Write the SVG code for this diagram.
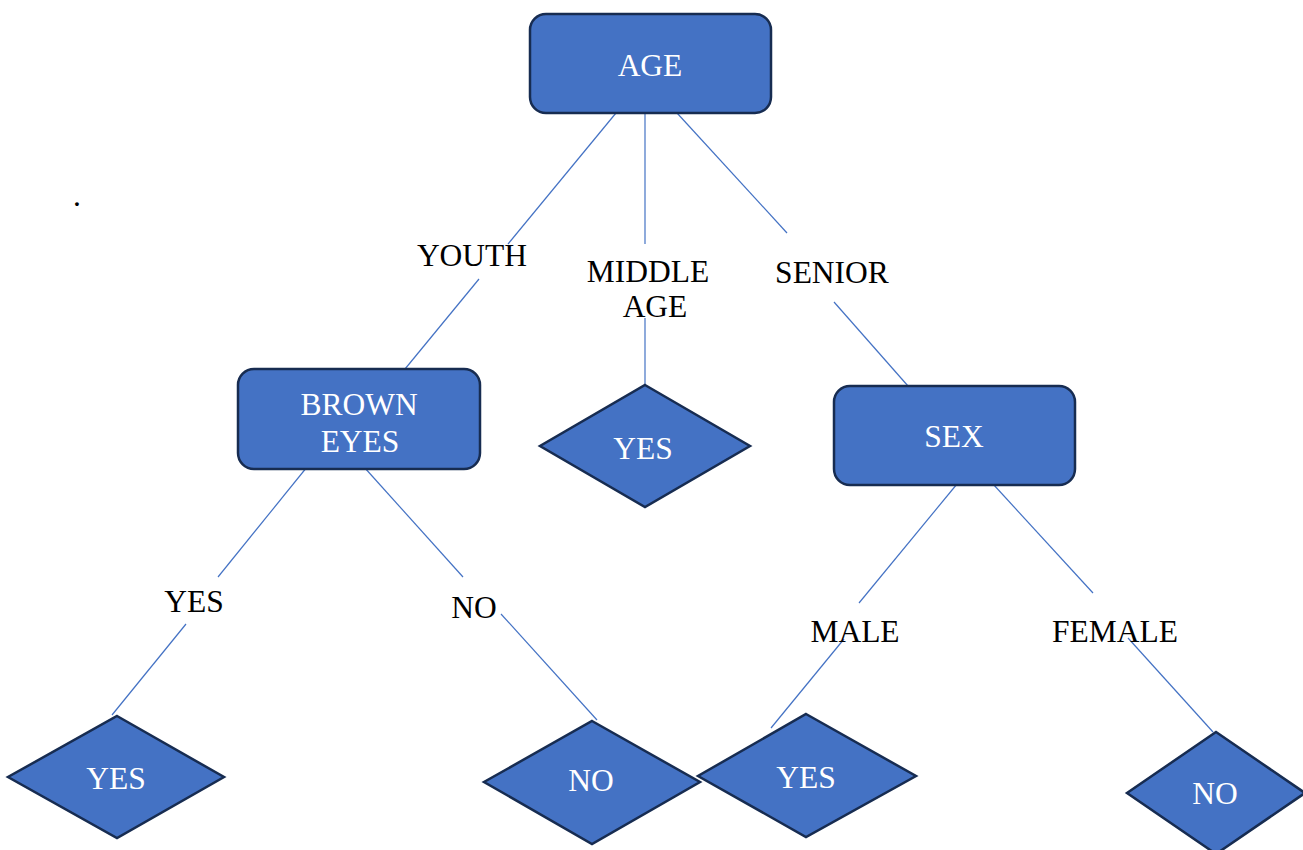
<svg xmlns="http://www.w3.org/2000/svg" width="1303" height="850" viewBox="0 0 1303 850">
<style>
.box{fill:#4472C4;stroke:#172C51;stroke-width:2.5}
.nt{font-family:"Liberation Serif","Times New Roman",serif;font-size:31.5px;fill:#ffffff;text-anchor:middle}
.lb{font-family:"Liberation Serif","Times New Roman",serif;font-size:31.5px;fill:#000000;text-anchor:middle}
.cn line{stroke:#4472C4;stroke-width:1.2;fill:none}
</style>
<rect width="1303" height="850" fill="#ffffff"/>
<g id="connectors" class="cn">
<line x1="616" y1="113" x2="508" y2="244"/>
<line x1="479" y1="279" x2="405" y2="369"/>
<line x1="645" y1="113" x2="645" y2="244"/>
<line x1="645" y1="318" x2="645" y2="385"/>
<line x1="677" y1="113" x2="787" y2="233"/>
<line x1="834" y1="302" x2="908" y2="386"/>
<line x1="307" y1="467" x2="218" y2="577"/>
<line x1="186" y1="624" x2="112" y2="715"/>
<line x1="364" y1="467" x2="463" y2="577"/>
<line x1="501" y1="614" x2="597" y2="720"/>
<line x1="957" y1="484" x2="859" y2="603"/>
<line x1="844" y1="639" x2="771" y2="728"/>
<line x1="993" y1="484" x2="1093" y2="593"/>
<line x1="1128" y1="638" x2="1213" y2="732"/>
</g>
<g id="labels">
<text class="lb" x="472" y="266">YOUTH</text>
<text class="lb" x="648" y="282">MIDDLE</text>
<text class="lb" x="655" y="317">AGE</text>
<text class="lb" x="832" y="283">SENIOR</text>
<text class="lb" x="194" y="612">YES</text>
<text class="lb" x="474" y="618">NO</text>
<text class="lb" x="855" y="642">MALE</text>
<text class="lb" x="1115" y="642">FEMALE</text>
<text class="lb" x="77" y="206">.</text>
</g>
<g id="node-age">
<rect class="box" x="530" y="14" width="241" height="99" rx="16"/>
<text class="nt" x="650" y="76">AGE</text>
</g>
<g id="node-brown-eyes">
<rect class="box" x="238" y="369" width="242" height="100" rx="16"/>
<text class="nt" x="359" y="415">BROWN</text>
<text class="nt" x="360" y="452">EYES</text>
</g>
<g id="node-middle-yes">
<polygon class="box" points="645,385 750,446 645,507 540,446"/>
<text class="nt" x="643" y="459">YES</text>
</g>
<g id="node-sex">
<rect class="box" x="834" y="386" width="241" height="99" rx="16"/>
<text class="nt" x="954" y="447">SEX</text>
</g>
<g id="node-yes-left">
<polygon class="box" points="117,716 224,777 117,838 8,777"/>
<text class="nt" x="116" y="789">YES</text>
</g>
<g id="node-no-mid">
<polygon class="box" points="592,721 700,782 592,844 484,782"/>
<text class="nt" x="591" y="791">NO</text>
</g>
<g id="node-yes-male">
<polygon class="box" points="806,714 916,776 806,837 698,776"/>
<text class="nt" x="806" y="788">YES</text>
</g>
<g id="node-no-female">
<polygon class="box" points="1216,732 1305,793 1216,854 1127,793"/>
<text class="nt" x="1215" y="804">NO</text>
</g>
</svg>
